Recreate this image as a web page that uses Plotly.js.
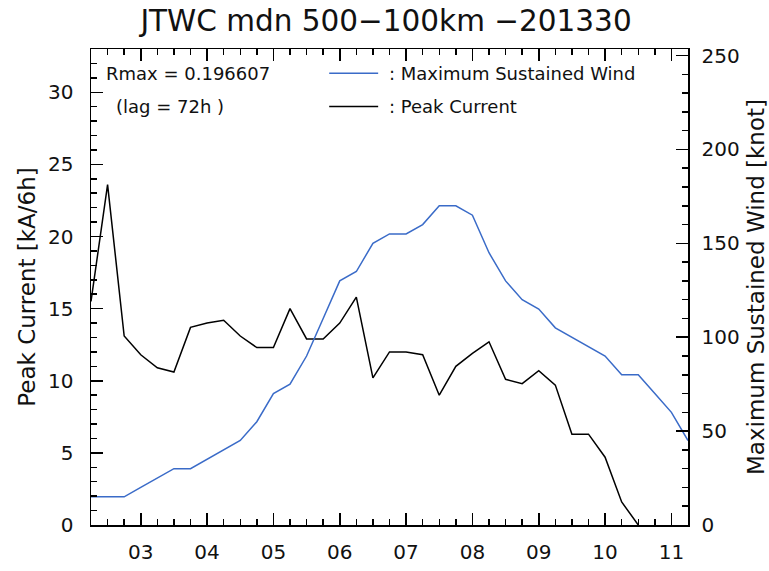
<!DOCTYPE html>
<html>
<head>
<meta charset="utf-8">
<script src="https://cdn.plot.ly/plotly-3.0.1.min.js"></script>
<style>html,body{margin:0;padding:0;background:#fff;}#chart{width:769px;height:571px;}</style>
</head>
<body>
<div id="chart"></div>
<script>
// 6-hourly times (UTC), Nov 2013
const times = [
  '2013-11-02 06:00','2013-11-02 12:00','2013-11-02 18:00',
  '2013-11-03 00:00','2013-11-03 06:00','2013-11-03 12:00','2013-11-03 18:00',
  '2013-11-04 00:00','2013-11-04 06:00','2013-11-04 12:00','2013-11-04 18:00',
  '2013-11-05 00:00','2013-11-05 06:00','2013-11-05 12:00','2013-11-05 18:00',
  '2013-11-06 00:00','2013-11-06 06:00','2013-11-06 12:00','2013-11-06 18:00',
  '2013-11-07 00:00','2013-11-07 06:00','2013-11-07 12:00','2013-11-07 18:00',
  '2013-11-08 00:00','2013-11-08 06:00','2013-11-08 12:00','2013-11-08 18:00',
  '2013-11-09 00:00','2013-11-09 06:00','2013-11-09 12:00','2013-11-09 18:00',
  '2013-11-10 00:00','2013-11-10 06:00','2013-11-10 12:00','2013-11-10 18:00',
  '2013-11-11 00:00','2013-11-11 06:00'
];
// Maximum sustained wind [knot]
const windKnot = [15,15,15,20,25,30,30,35,40,45,55,70,75,90,110,130,135,150,155,155,160,170,170,165,145,130,120,115,105,100,95,90,80,80,70,60,45];
// Peak current [kA/6h]
const peakCurrent = [15.5,23.6,13.1,11.8,10.9,10.6,13.7,14.0,14.2,13.1,12.3,12.3,15.0,12.9,12.9,14.0,15.8,10.2,12.0,12.0,11.8,9.0,11.0,11.9,12.7,10.1,9.8,10.7,9.7,6.3,6.3,4.7,1.6,0.0,null,null,null];

const titleText = 'JTWC mdn 500\u2212100km \u2212201330';
const leftTitle = 'Peak Current [kA/6h]';
const rightTitle = 'Maximum Sustained Wind [knot]';
const statText1 = 'Rmax = 0.196607';
const statText2 = '(lag = 72h )';
const windName = ': Maximum Sustained Wind';
const currentName = ': Peak Current';

const FONT = 'DejaVu Sans, Liberation Sans, sans-serif';
const BLUE = '#3a6bc8';

const traces = [
  {x: times, y: windKnot, yaxis: 'y2', type: 'scatter', mode: 'lines',
   line: {color: BLUE, width: 1.5}, name: windName, showlegend: false},
  {x: times, y: peakCurrent, yaxis: 'y', type: 'scatter', mode: 'lines',
   line: {color: '#000', width: 1.5}, name: currentName, showlegend: false, connectgaps: false}
];

const layout = {
  width: 769, height: 571,
  margin: {l: 91, r: 81, t: 49, b: 46, pad: 0},
  paper_bgcolor: '#fff', plot_bgcolor: '#fff',
  font: {family: FONT, color: '#000', size: 20},
  title: {text: titleText, font: {family: FONT, size: 29.5, color: '#111'},
          x: 0.502, xref: 'container', xanchor: 'center', y: 0.963, yref: 'container', yanchor: 'middle'},
  showlegend: false,
  xaxis: {
    type: 'date', range: ['2013-11-02 06:00', '2013-11-11 06:00'],
    tick0: '2013-11-03', dtick: 86400000, tickformat: '%d',
    ticks: 'inside', ticklen: 12, tickwidth: 1.5, tickcolor: '#000',
    minor: {dtick: 21600000, tick0: '2013-11-02 06:00', ticks: 'inside', ticklen: 6, tickwidth: 1.5, tickcolor: '#000', showgrid: false},
    showline: true, linecolor: '#000', linewidth: 1.5, mirror: 'ticks',
    showgrid: false, zeroline: false, automargin: false,
    tickfont: {family: FONT, size: 20, color: '#111'}, ticklabelstandoff: 8
  },
  yaxis: {
    range: [0, 33], tick0: 0, dtick: 5,
    ticks: 'inside', ticklen: 12, tickwidth: 1.5, tickcolor: '#000',
    minor: {dtick: 1, ticks: 'inside', ticklen: 6, tickwidth: 1.5, tickcolor: '#000', showgrid: false},
    showline: true, linecolor: '#000', linewidth: 1.5,
    showgrid: false, zeroline: false, automargin: false,
    tickfont: {family: FONT, size: 20, color: '#111'}, ticklabelstandoff: 12,
    title: {text: leftTitle, font: {family: FONT, size: 23, color: '#111'}, standoff: 6}
  },
  yaxis2: {
    range: [0, 253.5], tick0: 0, dtick: 50, overlaying: 'y', side: 'right',
    ticks: 'inside', ticklen: 12, tickwidth: 1.5, tickcolor: '#000',
    minor: {dtick: 10, ticks: 'inside', ticklen: 6, tickwidth: 1.5, tickcolor: '#000', showgrid: false},
    showline: true, linecolor: '#000', linewidth: 1.5,
    showgrid: false, zeroline: false, automargin: false,
    tickfont: {family: FONT, size: 20, color: '#111'}, ticklabelstandoff: 8,
    title: {text: rightTitle, font: {family: FONT, size: 23, color: '#111'}, standoff: 16}
  },
  shapes: [
    {type: 'line', xref: 'paper', yref: 'paper', x0: 0.399, x1: 0.481, y0: 0.949, y1: 0.949, line: {color: BLUE, width: 1.5}},
    {type: 'line', xref: 'paper', yref: 'paper', x0: 0.399, x1: 0.481, y0: 0.879, y1: 0.879, line: {color: '#000', width: 1.5}}
  ],
  annotations: [
    {text: statText1, xref: 'paper', yref: 'paper', x: 0.022, y: 0.949, xanchor: 'left', yanchor: 'middle', showarrow: false, font: {family: FONT, size: 18, color: '#111'}},
    {text: statText2, xref: 'paper', yref: 'paper', x: 0.039, y: 0.879, xanchor: 'left', yanchor: 'middle', showarrow: false, font: {family: FONT, size: 18, color: '#111'}},
    {text: windName, xref: 'paper', yref: 'paper', x: 0.496, y: 0.949, xanchor: 'left', yanchor: 'middle', showarrow: false, font: {family: FONT, size: 18, color: '#111'}},
    {text: currentName, xref: 'paper', yref: 'paper', x: 0.496, y: 0.879, xanchor: 'left', yanchor: 'middle', showarrow: false, font: {family: FONT, size: 18, color: '#111'}}
  ]
};

Plotly.newPlot('chart', traces, layout, {displayModeBar: false, staticPlot: true});
</script>
</body>
</html>
